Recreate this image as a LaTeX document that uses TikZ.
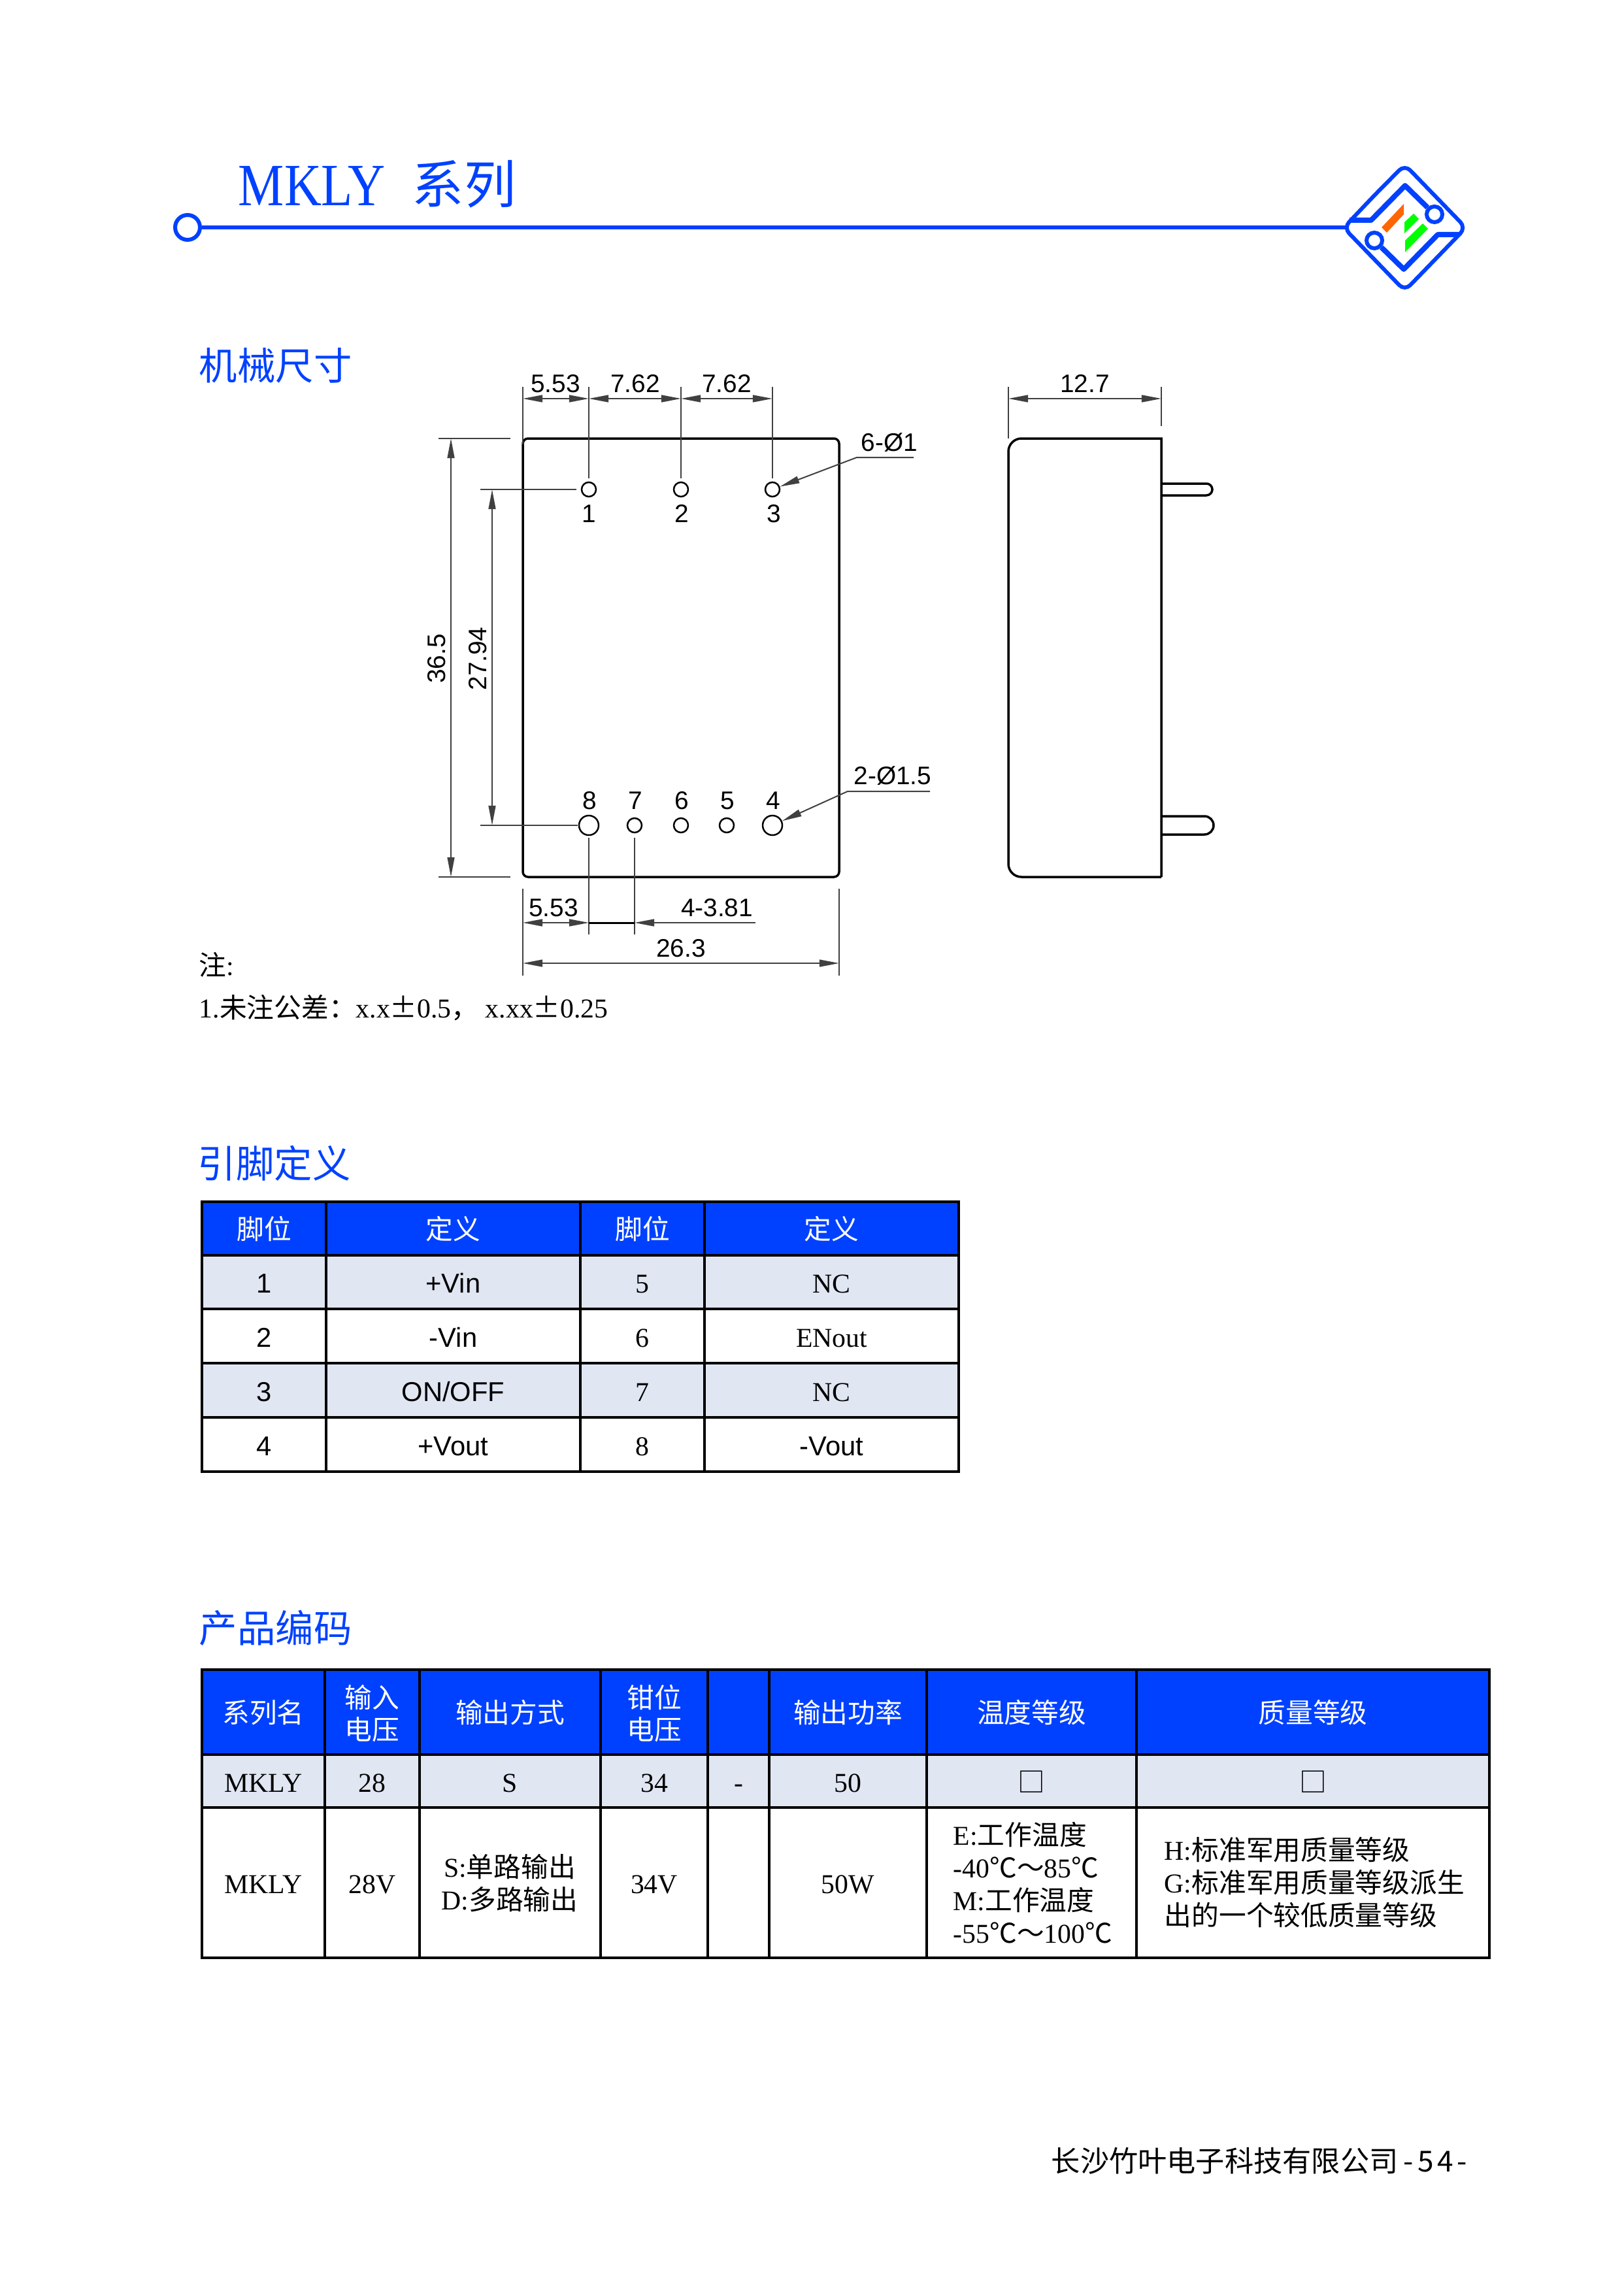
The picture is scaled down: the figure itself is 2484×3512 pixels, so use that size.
\documentclass[tikz,border=0pt]{standalone}
\usepackage{fontspec}
\usepackage{tikz}
\usetikzlibrary{arrows.meta}

\setmainfont{Liberation Serif}
\setsansfont{Liberation Sans}
\newfontfamily\cjk{Noto Sans CJK SC}
\newfontfamily\titlefont[FakeStretch=0.86]{Liberation Serif}

\definecolor{mainblue}{RGB}{0,65,255}
\definecolor{altrow}{RGB}{225,230,243}
\definecolor{logoorange}{RGB}{255,102,0}
\definecolor{logogreen}{RGB}{0,255,0}

\newlength\pxu
\setlength\pxu{0.2397pt}

\tikzset{
	body/.style={font=\fontsize{10}{12}\selectfont},
	heading/.style={anchor=west, inner sep=0pt, text=mainblue, font=\fontsize{14}{16}\selectfont\cjk},
	dimtext/.style={inner sep=0pt, font=\fontsize{9.3}{11}\selectfont\sffamily},
	outline/.style={draw, line width=3.5\pxu},
	thinline/.style={line width=2\pxu, black!75},
	dimline/.style={thinline, {Triangle[length=7.2pt,width=2.6pt]}-{Triangle[length=7.2pt,width=2.6pt]}},
	tipline/.style={thinline, {Triangle[length=7.2pt,width=2.6pt]}-},
	hole/.style={circle, draw, line width=2.5\pxu, inner sep=0pt, minimum size=22\pxu},
	bighole/.style={hole, minimum size=30\pxu},
	cell/.style={draw, line width=4\pxu, inner sep=0pt, text height=8pt, text depth=0pt},
	tblhead/.style={cell, fill=mainblue, text=white, font=\fontsize{10}{11.6}\selectfont\cjk},
	tblalt/.style={cell, fill=altrow},
	tblplain/.style={cell, fill=white},
	sfcell/.style={font=\fontsize{10}{12}\selectfont\sffamily},
	headtext/.style={inner sep=0pt, align=center, text=white, font=\fontsize{10}{11.6}\selectfont\cjk},
	blueline/.style={draw=mainblue, line width=6\pxu}
}

\begin{document}
\begin{tikzpicture}[x=\pxu, y=-\pxu, body]
	
	\useasboundingbox (0,0) rectangle (2484,3512);
	
	% Title bar
	
	\node[anchor=base west, inner sep=0pt, text=mainblue, font=\fontsize{22}{24}\selectfont\titlefont]
	(title) at (364,315) {MKLY};
	\node[anchor=west, inner sep=0pt, text=mainblue, font=\fontsize{19}{22}\selectfont\cjk]
	(titlecn) at (630,282) {系列};
	
	\node[circle, blueline, inner sep=0pt, minimum size=38\pxu]
	(bardot) at (287,348) {};
	\coordinate (logoW) at (2061,348);
	\draw[blueline] (bardot) -- (logoW);
	
	% Logo
	
	\draw[blueline, rounded corners=12\pxu] (2102.5,299.5) -- (2149.5,252) -- (2243,348.5) -- (2149.5,445) -- (2056,348.5) -- cycle;
	\node[circle, draw=mainblue, line width=6\pxu, inner sep=0pt, minimum size=24\pxu]
	(ringA) at (2195,328) {};
	\node[circle, draw=mainblue, line width=6\pxu, inner sep=0pt, minimum size=24\pxu]
	(ringB) at (2103,368) {};
	\coordinate (traceA1) at (2065,337);
	\coordinate (traceA2) at (2098,337);
	\coordinate (traceA3) at (2150,284);
	\coordinate (traceB1) at (2233,359);
	\coordinate (traceB2) at (2200,359);
	\coordinate (traceB3) at (2148,412);
	\draw[draw=mainblue, line width=8\pxu, line join=round] (traceA1) -- (traceA2) -- (traceA3) -- (ringA);
	\draw[draw=mainblue, line width=8\pxu, line join=round] (traceB1) -- (traceB2) -- (traceB3) -- (ringB);
	\fill[logoorange] (2148,312) -- (2148,328) -- (2122,356) -- (2114,348) -- cycle;
	\fill[logogreen] (2163,327) -- (2171,335) -- (2149,357) -- (2149,340) -- cycle;
	\fill[logogreen] (2177,342) -- (2185,350) -- (2150,386) -- (2150,368) -- cycle;
	
	% Headings
	
	\node[heading] (headMech) at (304,559) {机械尺寸};
	\node[heading] (headPin) at (302,1780) {引脚定义};
	\node[heading] (headCode) at (304,2491) {产品编码};
	
	% Front view
	
	\node[outline, rounded corners=8\pxu, minimum width=484\pxu, minimum height=671\pxu, inner sep=0pt]
	(front) at (1042,1006.5) {};
	
	\node[hole] (h1) at (901,749) {};
	\node[hole] (h2) at (1042,749) {};
	\node[hole] (h3) at (1182,749) {};
	\node[bighole] (h4) at (1182,1263) {};
	\node[hole] (h5) at (1112,1263) {};
	\node[hole] (h6) at (1042,1263) {};
	\node[hole] (h7) at (971,1263) {};
	\node[bighole] (h8) at (901,1263) {};
	
	\node[dimtext] (p1) at (901,786) {1};
	\node[dimtext] (p2) at (1043,786) {2};
	\node[dimtext] (p3) at (1184,786) {3};
	\node[dimtext] (p4) at (1183,1225) {4};
	\node[dimtext] (p5) at (1113,1225) {5};
	\node[dimtext] (p6) at (1043,1225) {6};
	\node[dimtext] (p7) at (972,1225) {7};
	\node[dimtext] (p8) at (902,1225) {8};
	
	% Top dimensions
	
	\coordinate (t0) at (800,610);
	\coordinate (t1) at (901,610);
	\coordinate (t2) at (1042,610);
	\coordinate (t3) at (1182,610);
	\draw[thinline] (800,592) -- (800,680);
	\draw[thinline] (901,592) -- (901,732);
	\draw[thinline] (1042,592) -- (1042,732);
	\draw[thinline] (1182,592) -- (1182,732);
	\draw[dimline] (t0) -- (t1);
	\draw[dimline] (t1) -- (t2);
	\draw[dimline] (t2) -- (t3);
	\node[dimtext] (dimA) at (850,587) {5.53};
	\node[dimtext] (dimB) at (972,587) {7.62};
	\node[dimtext] (dimC) at (1112,587) {7.62};
	
	% Left dimensions
	
	\coordinate (l1) at (690,671);
	\coordinate (l2) at (690,1342);
	\coordinate (m1) at (753,749);
	\coordinate (m2) at (753,1263);
	\draw[thinline] (671,671) -- (781,671);
	\draw[thinline] (671,1342) -- (781,1342);
	\draw[thinline] (735,749) -- (882,749);
	\draw[thinline] (735,1263) -- (884,1263);
	\draw[dimline] (l1) -- (l2);
	\draw[dimline] (m1) -- (m2);
	\node[dimtext, rotate=90] (dimH) at (668,1008) {36.5};
	\node[dimtext, rotate=90] (dimP) at (731,1008) {27.94};
	
	% Hole leaders
	
	\coordinate (leadA) at (1311,700);
	\coordinate (leadAend) at (1398,700);
	\coordinate (leadB) at (1297,1211);
	\coordinate (leadBend) at (1423,1211);
	\draw[tipline] (h3) -- (leadA) -- (leadAend);
	\draw[tipline] (h4) -- (leadB) -- (leadBend);
	\node[dimtext] (noteA) at (1361,677) {6-Ø1};
	\node[dimtext] (noteB) at (1366,1187) {2-Ø1.5};
	
	% Bottom dimensions
	
	\coordinate (b0) at (800,1412);
	\coordinate (b1) at (901,1412);
	\coordinate (b2) at (971,1412);
	\coordinate (b3) at (1156,1412);
	\coordinate (w0) at (800,1474);
	\coordinate (w1) at (1284,1474);
	\draw[thinline] (901,1282) -- (901,1430);
	\draw[thinline] (971,1282) -- (971,1430);
	\draw[thinline] (800,1360) -- (800,1493);
	\draw[thinline] (1284,1360) -- (1284,1493);
	\draw[dimline] (b0) -- (b1);
	\draw[line width=3\pxu] (b1) -- (b2);
	\draw[tipline] (b2) -- (b3);
	\draw[dimline] (w0) -- (w1);
	\node[dimtext] (dimD) at (847,1389) {5.53};
	\node[dimtext] (dimE) at (1097,1389) {4-3.81};
	\node[dimtext] (dimW) at (1042,1451) {26.3};
	
	% Side view
	
	\draw[outline] (1777,1342) -- (1777,671) [rounded corners=20\pxu] -- (1543,671) -- (1543,1342) [sharp corners] -- (1777,1342);
	\draw[outline, rounded corners=9\pxu] (1777,740) -- (1855,740) -- (1855,758) -- (1777,758);
	\draw[outline, rounded corners=14\pxu] (1777,1249) -- (1857,1249) -- (1857,1277) -- (1777,1277);
	\coordinate (s0) at (1543,610);
	\coordinate (s1) at (1777,610);
	\draw[thinline] (1543,592) -- (1543,671);
	\draw[thinline] (1777,592) -- (1777,652);
	\draw[dimline] (s0) -- (s1);
	\node[dimtext] (dimS) at (1660,587) {12.7};
	
	% Notes
	
	\node[anchor=west, inner sep=0pt] (noteHead) at (304,1476) {{\cjk 注}:};
	\node[anchor=west, inner sep=0pt] (noteLine) at (304,1542) {1.{\cjk 未注公差：}x.x{\cjk ±}0.5{\cjk ，} x.xx{\cjk ±}0.25};
	
	% Pin table
	
	\node[tblhead, minimum width=190\pxu, minimum height=82\pxu] (pinH1) at (404,1880) {脚位};
	\node[tblhead, minimum width=389\pxu, minimum height=82\pxu] (pinH2) at (693.5,1880) {定义};
	\node[tblhead, minimum width=190\pxu, minimum height=82\pxu] (pinH3) at (983,1880) {脚位};
	\node[tblhead, minimum width=389\pxu, minimum height=82\pxu] (pinH4) at (1272.5,1880) {定义};
	
	\node[tblalt, sfcell, minimum width=190\pxu, minimum height=82\pxu] (pinA1) at (404,1962) {1};
	\node[tblalt, sfcell, minimum width=389\pxu, minimum height=82\pxu] (pinA2) at (693.5,1962) {+Vin};
	\node[tblalt, minimum width=190\pxu, minimum height=82\pxu] (pinA3) at (983,1962) {5};
	\node[tblalt, minimum width=389\pxu, minimum height=82\pxu] (pinA4) at (1272.5,1962) {NC};
	
	\node[tblplain, sfcell, minimum width=190\pxu, minimum height=83\pxu] (pinB1) at (404,2044.5) {2};
	\node[tblplain, sfcell, minimum width=389\pxu, minimum height=83\pxu] (pinB2) at (693.5,2044.5) {-Vin};
	\node[tblplain, minimum width=190\pxu, minimum height=83\pxu] (pinB3) at (983,2044.5) {6};
	\node[tblplain, minimum width=389\pxu, minimum height=83\pxu] (pinB4) at (1272.5,2044.5) {ENout};
	
	\node[tblalt, sfcell, minimum width=190\pxu, minimum height=83\pxu] (pinC1) at (404,2127.5) {3};
	\node[tblalt, sfcell, minimum width=389\pxu, minimum height=83\pxu] (pinC2) at (693.5,2127.5) {ON/OFF};
	\node[tblalt, minimum width=190\pxu, minimum height=83\pxu] (pinC3) at (983,2127.5) {7};
	\node[tblalt, minimum width=389\pxu, minimum height=83\pxu] (pinC4) at (1272.5,2127.5) {NC};
	
	\node[tblplain, sfcell, minimum width=190\pxu, minimum height=83\pxu] (pinD1) at (404,2210.5) {4};
	\node[tblplain, sfcell, minimum width=389\pxu, minimum height=83\pxu] (pinD2) at (693.5,2210.5) {+Vout};
	\node[tblplain, minimum width=190\pxu, minimum height=83\pxu] (pinD3) at (983,2210.5) {8};
	\node[tblplain, sfcell, minimum width=389\pxu, minimum height=83\pxu] (pinD4) at (1272.5,2210.5) {-Vout};
	
	% Code table
	
	\node[tblhead, minimum width=188\pxu, minimum height=130\pxu] (codeH1) at (403,2620) {系列名};
	\node[tblhead, minimum width=145\pxu, minimum height=130\pxu] (codeH2) at (569.5,2620) {};
	\node[tblhead, minimum width=277\pxu, minimum height=130\pxu] (codeH3) at (780.5,2620) {输出方式};
	\node[tblhead, minimum width=164\pxu, minimum height=130\pxu] (codeH4) at (1001,2620) {};
	\node[tblhead, minimum width=94\pxu, minimum height=130\pxu] (codeH5) at (1130,2620) {};
	\node[tblhead, minimum width=241\pxu, minimum height=130\pxu] (codeH6) at (1297.5,2620) {输出功率};
	\node[tblhead, minimum width=321\pxu, minimum height=130\pxu] (codeH7) at (1578.5,2620) {温度等级};
	\node[tblhead, minimum width=540\pxu, minimum height=130\pxu] (codeH8) at (2009,2620) {质量等级};
	\node[headtext] (inputText) at (569.5,2622) {输入\\电压};
	\node[headtext] (clampText) at (1001,2622) {钳位\\电压};
	
	\node[tblalt, minimum width=188\pxu, minimum height=81\pxu] (codeA1) at (403,2725.5) {MKLY};
	\node[tblalt, minimum width=145\pxu, minimum height=81\pxu] (codeA2) at (569.5,2725.5) {28};
	\node[tblalt, minimum width=277\pxu, minimum height=81\pxu] (codeA3) at (780.5,2725.5) {S};
	\node[tblalt, minimum width=164\pxu, minimum height=81\pxu] (codeA4) at (1001,2725.5) {34};
	\node[tblalt, minimum width=94\pxu, minimum height=81\pxu] (codeA5) at (1130,2725.5) {-};
	\node[tblalt, minimum width=241\pxu, minimum height=81\pxu] (codeA6) at (1297.5,2725.5) {50};
	\node[tblalt, minimum width=321\pxu, minimum height=81\pxu] (codeA7) at (1578.5,2725.5) {{\cjk □}};
	\node[tblalt, minimum width=540\pxu, minimum height=81\pxu] (codeA8) at (2009,2725.5) {{\cjk □}};
	
	\node[tblplain, minimum width=188\pxu, minimum height=230\pxu] (codeB1) at (403,2881) {MKLY};
	\node[tblplain, minimum width=145\pxu, minimum height=230\pxu] (codeB2) at (569.5,2881) {28V};
	\node[tblplain, minimum width=277\pxu, minimum height=230\pxu] (codeB3) at (780.5,2881) {};
	\node[tblplain, minimum width=164\pxu, minimum height=230\pxu] (codeB4) at (1001,2881) {34V};
	\node[tblplain, minimum width=94\pxu, minimum height=230\pxu] (codeB5) at (1130,2881) {};
	\node[tblplain, minimum width=241\pxu, minimum height=230\pxu] (codeB6) at (1297.5,2881) {50W};
	\node[tblplain, minimum width=321\pxu, minimum height=230\pxu] (codeB7) at (1578.5,2881) {};
	\node[tblplain, minimum width=540\pxu, minimum height=230\pxu] (codeB8) at (2009,2881) {};
	
	\node[inner sep=0pt, align=center] (outText) at (780,2882)
	{S:{\cjk 单路输出}\\D:{\cjk 多路输出}};
	\node[anchor=west, inner sep=0pt, align=left] (tempText) at (1458,2881)
	{E:{\cjk 工作温度}\\-40{\cjk ℃～}85{\cjk ℃}\\M:{\cjk 工作温度}\\-55{\cjk ℃～}100{\cjk ℃}};
	\node[anchor=west, inner sep=0pt, align=left] (gradeText) at (1781,2881)
	{H:{\cjk 标准军用质量等级}\\G:{\cjk 标准军用质量等级派生}\\{\cjk 出的一个较低质量等级}};
	
	% Footer
	
	\node[anchor=west, inner sep=0pt, font=\fontsize{10.6}{12}\selectfont\cjk] (footer) at (1608,3307) {长沙竹叶电子科技有限公司\kern2pt-\kern1.4pt5\kern1.4pt4\kern1.4pt-};
	
\end{tikzpicture}
\end{document}
